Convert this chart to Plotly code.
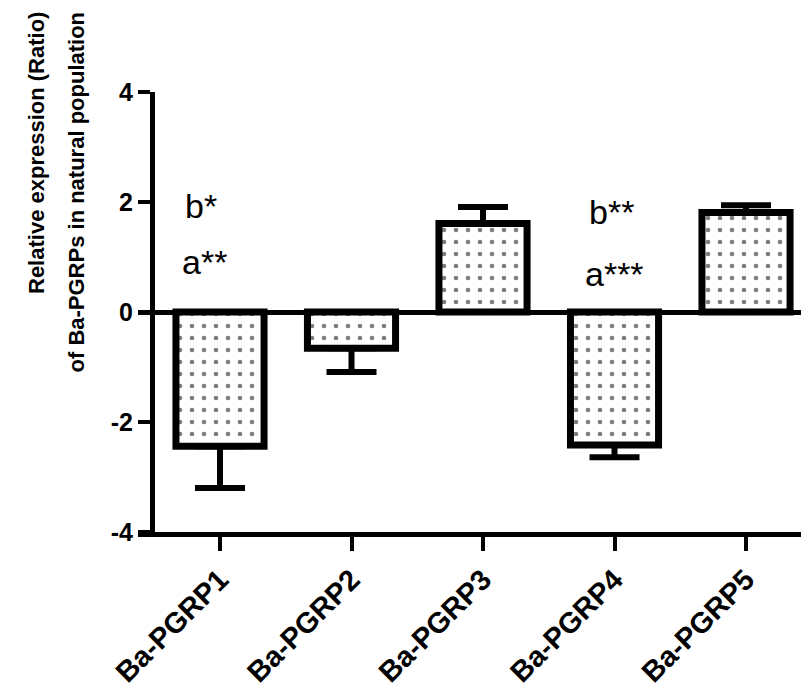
import plotly.graph_objects as go

categories = ["Ba-PGRP1", "Ba-PGRP2", "Ba-PGRP3", "Ba-PGRP4", "Ba-PGRP5"]
values = [-2.44, -0.66, 1.61, -2.42, 1.81]
errors = [0.76, 0.43, 0.30, 0.22, 0.13]
y_ticks = [-4, -2, 0, 2, 4]
sig_text = ["b*", "a**", "b**", "a***"]
sig_x = [-0.145, -0.12, 2.98, 3.00]
sig_y = [1.93, 0.91, 1.82, 0.69]
title_lines = ["Relative expression (Ratio)", "of Ba-PGRPs in natural population"]

err_plus = [e if v > 0 else 0 for v, e in zip(values, errors)]
err_minus = [e if v < 0 else 0 for v, e in zip(values, errors)]

FONT = "Liberation Sans, Arial, sans-serif"

fig = go.Figure()
fig.add_trace(go.Bar(
    x=categories, y=values, width=0.67,
    marker=dict(color="white",
                line=dict(color="black", width=7),
                pattern=dict(shape=".", fgcolor="black", bgcolor="white",
                             size=12, solidity=0.12, fillmode="overlay")),
    error_y=dict(type="data", symmetric=False, array=err_plus, arrayminus=err_minus,
                 color="black", thickness=6, width=25),
    showlegend=False,
))

for t, x, y in zip(sig_text, sig_x, sig_y):
    fig.add_annotation(x=x, y=y, xref="x", yref="y", text=t, showarrow=False,
                       font=dict(family=FONT, size=34, color="black"))

# two-line axis title, lines aligned at their ends (top)
for line, xc in zip(title_lines, [-(138 - 36) / 671, -(138 - 76) / 671]):
    fig.add_annotation(
        xref="paper", yref="paper", x=xc, y=1 + (92 - 10) / 440,
        xanchor="center", yanchor="top", text=line,
        textangle=-90, showarrow=False,
        font=dict(family=FONT, size=22, color="black", weight="bold"))

fig.update_layout(
    width=801, height=687,
    margin=dict(l=130, r=0, t=84, b=163, autoexpand=False),
    plot_bgcolor="white", paper_bgcolor="white",
    font=dict(family=FONT, color="black"),
    xaxis=dict(range=[-0.6236, 4.479], showline=True, linecolor="black", linewidth=5,
               ticks="outside", ticklen=14, tickwidth=4, tickcolor="black",
               tickangle=-45, tickfont=dict(size=29, family=FONT, color="black", weight="bold"),
               showgrid=False, zeroline=False, anchor="y", automargin=False),
    yaxis=dict(range=[-4, 4], tickvals=y_ticks, ticktext=[str(v) for v in y_ticks],
               showline=True, linecolor="black", linewidth=5,
               ticks="outside", ticklen=12, tickwidth=4, tickcolor="black",
               tickfont=dict(size=25, family=FONT, color="black", weight="bold"),
               showgrid=False, zeroline=True, zerolinecolor="black", zerolinewidth=5,
               anchor="free", position=14 / 671, automargin=False),
)

fig.write_html("out.html")
